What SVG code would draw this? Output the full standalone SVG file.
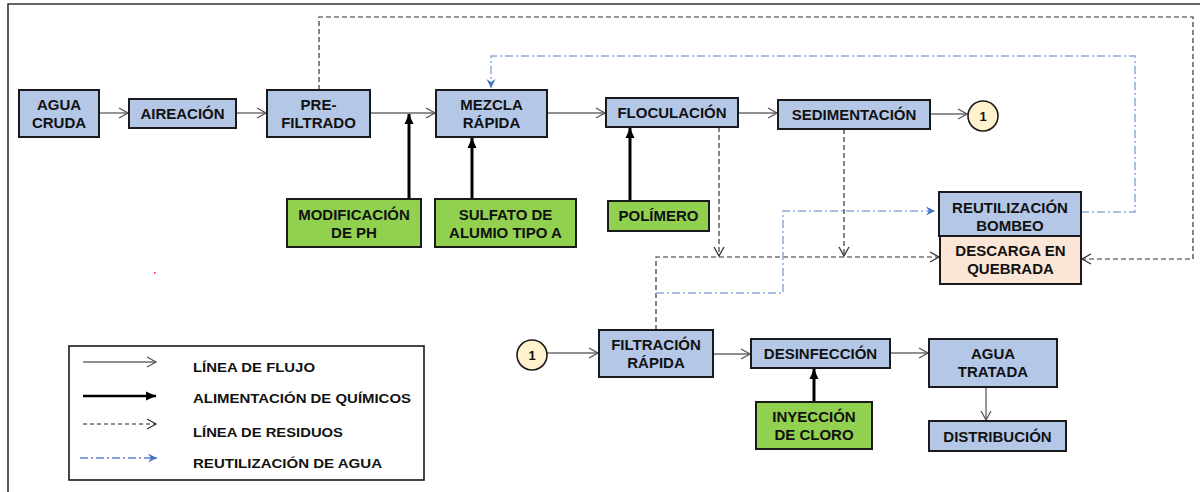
<svg xmlns="http://www.w3.org/2000/svg" width="1200" height="492" viewBox="0 0 1200 492">
<style>
.box{fill:#b4c7e7;stroke:#1a1a1a;stroke-width:2}
.chem{fill:#92d050;stroke:#1a1a1a;stroke-width:2}
.dis{fill:#fbe5d6;stroke:#1a1a1a;stroke-width:2}
.circ{fill:#fff2cc;stroke:#1a1a1a;stroke-width:1.6}
.t{font-family:"Liberation Sans",Arial,sans-serif;font-weight:bold;font-size:15px;fill:#111;text-anchor:middle}
.lt{font-family:"Liberation Sans",Arial,sans-serif;font-weight:bold;font-size:13px;fill:#111}
.flow{fill:none;stroke:#6b6b6b;stroke-width:1.4;marker-end:url(#mOpen)}
.feed{fill:none;stroke:#000;stroke-width:3;marker-end:url(#mFill)}
.waste{fill:none;stroke:#333;stroke-width:1.2;stroke-dasharray:5 3}
.reuse{fill:none;stroke:#8faadc;stroke-width:1.5;stroke-dasharray:8 3 2 3}
</style>
<defs>
<marker id="mOpen" markerUnits="userSpaceOnUse" markerWidth="12" markerHeight="12" refX="10" refY="6" orient="auto">
<path d="M1,1 L10,6 L1,11" fill="none" stroke="#555" stroke-width="1.3"/>
</marker>
<marker id="mDash" markerUnits="userSpaceOnUse" markerWidth="12" markerHeight="12" refX="10" refY="6" orient="auto">
<path d="M1,1 L10,6 L1,11" fill="none" stroke="#333" stroke-width="1.3"/>
</marker>
<marker id="mFill" markerUnits="userSpaceOnUse" markerWidth="12" markerHeight="12" refX="10" refY="6" orient="auto">
<path d="M0,1.5 L10,6 L0,10.5 Z" fill="#000"/>
</marker>
<marker id="mBlue" markerUnits="userSpaceOnUse" markerWidth="12" markerHeight="12" refX="9" refY="6" orient="auto">
<path d="M0,1.5 L9,6 L0,10.5 L3,6 Z" fill="#4472c4"/>
</marker>
</defs>
<rect width="1200" height="492" fill="#fff"/>
<path d="M8,492 L8,4 L1200,4" fill="none" stroke="#333" stroke-width="1.6"/>
<rect x="154" y="272" width="1.6" height="1.6" fill="#ff3030"/>

<g id="connectors">
<line class="flow" x1="99" y1="113" x2="128" y2="113"/>
<line class="flow" x1="236" y1="113" x2="266" y2="113"/>
<line class="flow" x1="370" y1="113" x2="435" y2="113"/>
<line class="flow" x1="547" y1="113" x2="605" y2="113"/>
<line class="flow" x1="738" y1="113" x2="777" y2="113"/>
<line class="flow" x1="930" y1="114" x2="967" y2="114"/>
<line class="flow" x1="547" y1="353" x2="598" y2="353"/>
<line class="flow" x1="713" y1="354" x2="750" y2="354"/>
<line class="flow" x1="890" y1="353" x2="928" y2="353"/>
<line class="flow" x1="986" y1="387" x2="986" y2="420"/>
<line class="feed" x1="409" y1="199" x2="409" y2="114"/>
<line class="feed" x1="472" y1="199" x2="472" y2="138"/>
<line class="feed" x1="630" y1="201" x2="630" y2="128"/>
<line class="feed" x1="814" y1="402" x2="814" y2="369"/>
<path class="waste" d="M319,90 L319,17 L1193,17 L1193,259 L1082,259" marker-end="url(#mDash)"/>
<path class="waste" d="M656,330 L656,257 L939,257" marker-end="url(#mDash)"/>
<path class="waste" d="M719,127 L719,256" marker-end="url(#mDash)"/>
<path class="waste" d="M844,129 L844,256" marker-end="url(#mDash)"/>
<path class="reuse" d="M1081,212 L1135,212 L1135,56 L491,56 L491,88" marker-end="url(#mBlue)"/>
<path class="reuse" d="M656,293 L783,293 L783,211 L935,211" marker-end="url(#mBlue)"/>
</g>

<g id="agua-cruda"><rect class="box" x="19" y="90" width="80" height="47"/><text class="t" x="59" y="110">AGUA</text><text class="t" x="59" y="128">CRUDA</text></g>
<g id="aireacion"><rect class="box" x="129" y="99" width="107" height="29"/><text class="t" x="182.5" y="119">AIREACIÓN</text></g>
<g id="prefiltrado"><rect class="box" x="267" y="90" width="103" height="47"/><text class="t" x="318.5" y="110">PRE-</text><text class="t" x="318.5" y="128">FILTRADO</text></g>
<g id="mezcla"><rect class="box" x="436" y="90" width="111" height="47"/><text class="t" x="491.5" y="110">MEZCLA</text><text class="t" x="491.5" y="128">RÁPIDA</text></g>
<g id="floculacion"><rect class="box" x="606" y="98" width="132" height="29"/><text class="t" x="672" y="118">FLOCULACIÓN</text></g>
<g id="sedimentacion"><rect class="box" x="778" y="100" width="152" height="29"/><text class="t" x="854" y="120">SEDIMENTACIÓN</text></g>
<g id="conector-1a"><circle class="circ" cx="983" cy="116" r="15"/><text class="t" x="983" y="121" style="font-size:13px">1</text></g>
<g id="modificacion-ph"><rect class="chem" x="287" y="199" width="134" height="48"/><text class="t" x="354" y="220">MODIFICACIÓN</text><text class="t" x="354" y="238">DE PH</text></g>
<g id="sulfato"><rect class="chem" x="435" y="199" width="141" height="48"/><text class="t" x="505.5" y="220">SULFATO DE</text><text class="t" x="505.5" y="238">ALUMIO TIPO A</text></g>
<g id="polimero"><rect class="chem" x="608" y="201" width="101" height="30"/><text class="t" x="658.5" y="221">POLÍMERO</text></g>
<g id="reutilizacion"><rect class="box" x="939" y="192" width="142" height="44"/><text class="t" x="1010" y="212.5">REUTILIZACIÓN</text><text class="t" x="1010" y="230.5">BOMBEO</text></g>
<g id="descarga"><rect class="dis" x="940" y="236" width="141" height="48"/><text class="t" x="1010.5" y="256">DESCARGA EN</text><text class="t" x="1010.5" y="274">QUEBRADA</text></g>
<g id="conector-1b"><circle class="circ" cx="532" cy="355" r="15"/><text class="t" x="532" y="360" style="font-size:13px">1</text></g>
<g id="filtracion"><rect class="box" x="599" y="330" width="114" height="47"/><text class="t" x="656" y="350">FILTRACIÓN</text><text class="t" x="656" y="368">RÁPIDA</text></g>
<g id="desinfeccion"><rect class="box" x="751" y="339" width="139" height="29"/><text class="t" x="820.5" y="359">DESINFECCIÓN</text></g>
<g id="inyeccion"><rect class="chem" x="756" y="402" width="116" height="47"/><text class="t" x="814" y="422">INYECCIÓN</text><text class="t" x="814" y="440">DE CLORO</text></g>
<g id="agua-tratada"><rect class="box" x="929" y="339" width="128" height="48"/><text class="t" x="993" y="359">AGUA</text><text class="t" x="993" y="377">TRATADA</text></g>
<g id="distribucion"><rect class="box" x="929" y="421" width="137" height="30"/><text class="t" x="997.5" y="441.5">DISTRIBUCIÓN</text></g>

<g id="legend">
<rect x="69" y="346" width="355" height="134" fill="#fff" stroke="#1a1a1a" stroke-width="1.6"/>
<line x1="83" y1="362" x2="156" y2="362" stroke="#222" stroke-width="1" marker-end="url(#mOpen)"/>
<line x1="83" y1="396" x2="156" y2="396" stroke="#000" stroke-width="2.6" marker-end="url(#mFill)"/>
<line x1="83" y1="424" x2="156" y2="424" stroke="#222" stroke-width="1" stroke-dasharray="4 3" marker-end="url(#mDash)"/>
<line x1="80" y1="458" x2="157" y2="458" stroke="#5b84cf" stroke-width="1.3" stroke-dasharray="8 3 2 3" marker-end="url(#mBlue)"/>
<text class="lt" x="193" y="372" textLength="122" lengthAdjust="spacingAndGlyphs">LÍNEA DE FLUJO</text>
<text class="lt" x="193" y="403" textLength="218" lengthAdjust="spacingAndGlyphs">ALIMENTACIÓN DE QUÍMICOS</text>
<text class="lt" x="193" y="437" textLength="150" lengthAdjust="spacingAndGlyphs">LÍNEA DE RESIDUOS</text>
<text class="lt" x="193" y="468" textLength="189" lengthAdjust="spacingAndGlyphs">REUTILIZACIÓN DE AGUA</text>
</g>
</svg>
